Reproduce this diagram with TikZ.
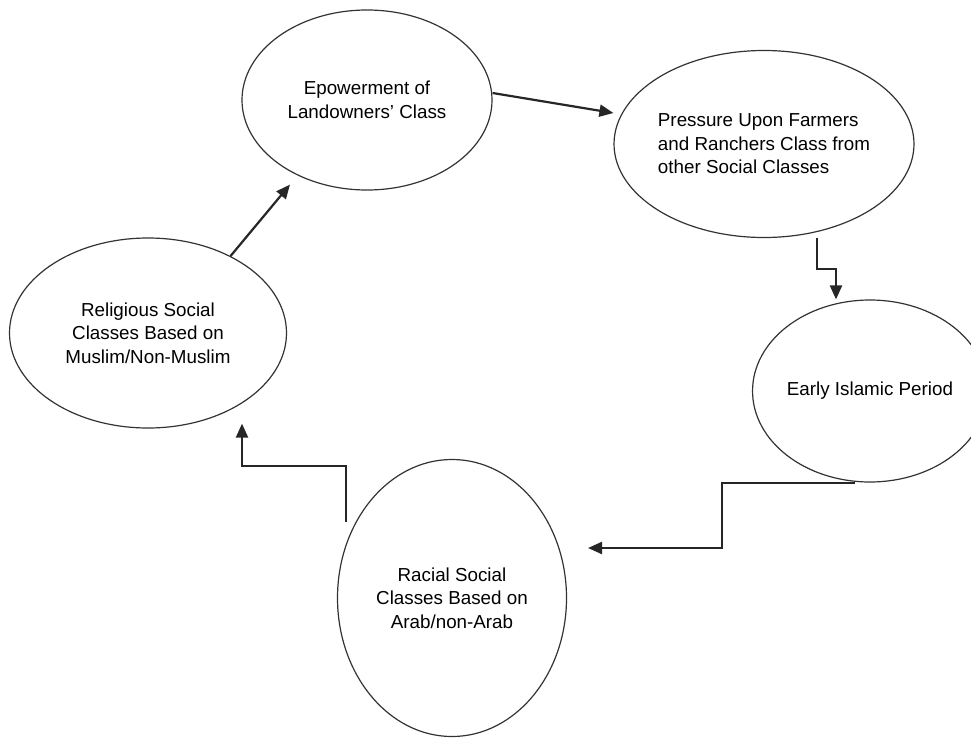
\documentclass[tikz,border=0pt]{standalone}
\usepackage{fontspec}
\setmainfont{Liberation Sans}
\usetikzlibrary{shapes.geometric,arrows.meta}
\begin{document}
\begin{tikzpicture}[x=1pt,y=-1pt,
  oval/.style={ellipse,draw=black!80,line width=1.2pt,inner sep=0pt,
    font=\fontsize{18.8}{23.5}\selectfont},
  link/.style={draw=black!85,line width=2.2pt,-{Triangle[length=14pt,width=12pt]}}]
\useasboundingbox (0,0) rectangle (971,739);
% the five stages
\node[oval,minimum width=250pt,minimum height=180pt,align=center] (empower) at (367,100) {Epowerment of\\Landowners' Class};
\node[oval,minimum width=282pt,minimum height=187pt,align=left] (pressure) at (764,144) {Pressure Upon Farmers\\and Ranchers Class from\\other Social Classes};
\node[oval,minimum width=204pt,minimum height=182pt] (early) at (870,391) {Early Islamic Period};
\node[oval,minimum width=229pt,minimum height=277pt,align=center] (racial) at (452,598) {Racial Social\\Classes Based on\\Arab/non-Arab};
\node[oval,minimum width=277pt,minimum height=190pt,align=center] (religious) at (148,333) {Religious Social\\Classes Based on\\Muslim/Non-Muslim};
% free ends
\coordinate (racetip) at (588,548);
\coordinate (racetail) at (346,522);
% the cycle
\draw[link] ([yshift=7pt]empower.east) -- ([yshift=31pt]pressure.west);
\draw[link] ([xshift=53pt]pressure.south) -- ++(0,31) -| ([xshift=-34pt]early.north);
\draw[link] ([xshift=-15pt]early.south) -- ++(-133,0) |- (racetip);
\draw[link] (racetail) -- ++(0,-56) -| ([xshift=94pt,yshift=5pt]religious.south);
\draw[link] (religious.43) -- ([xshift=-77pt,yshift=6pt]empower.south);
\end{tikzpicture}
\end{document}
